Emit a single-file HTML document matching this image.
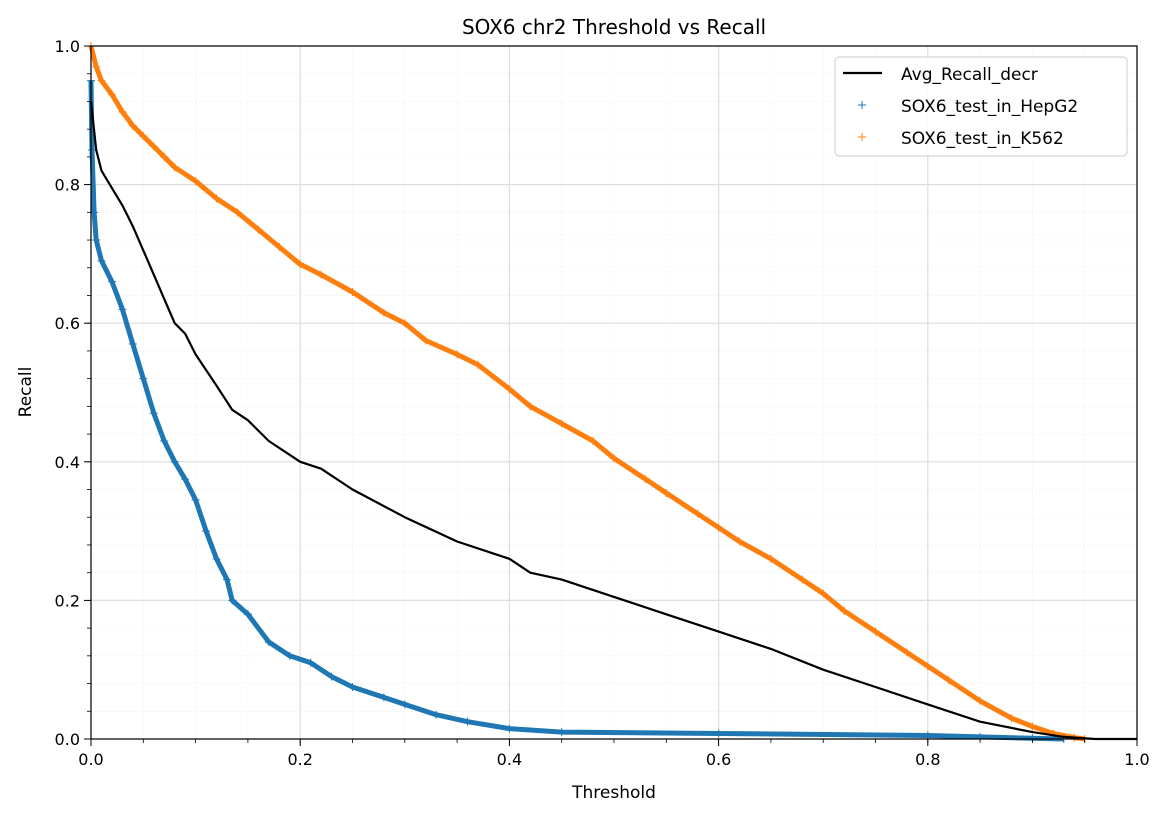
<!DOCTYPE html>
<html><head><meta charset="utf-8">
<style>
html,body{margin:0;padding:0;background:#fff;}
svg{display:block;font-family:"DejaVu Sans","Liberation Sans",sans-serif;}
</style></head>
<body>
<svg id="chart" width="1168" height="817" viewBox="0 0 1168 817">
<g id="grid"></g>
<g id="series"></g>
<rect x="91" y="46" width="1046" height="693" fill="none" stroke="#000" stroke-width="1.2"/>
<g id="axes"></g>
<text x="614" y="34" text-anchor="middle" font-size="20">SOX6 chr2 Threshold vs Recall</text>
<text x="614" y="798" text-anchor="middle" font-size="17">Threshold</text>
<text x="31" y="392" text-anchor="middle" font-size="17" transform="rotate(-90 31 392)">Recall</text>
<g>
<rect x="835" y="57" width="292" height="99" rx="4" fill="#fff" fill-opacity="0.85" stroke="#ccc"/>
<line x1="843" y1="73" x2="882" y2="73" stroke="#000" stroke-width="2.2"/>
<text x="901" y="80" font-size="17">Avg_Recall_decr</text>
<path d="M858 105h8M862 101v8" stroke="#1f77b4" stroke-width="1"/>
<text x="901" y="112" font-size="17">SOX6_test_in_HepG2</text>
<path d="M858 137h8M862 133v8" stroke="#ff7f0e" stroke-width="1"/>
<text x="901" y="144" font-size="17">SOX6_test_in_K562</text>
</g>
</svg>
<script>
const xTicks=[0,0.2,0.4,0.6,0.8,1.0];
const xTickLabels=["0.0","0.2","0.4","0.6","0.8","1.0"];
const yTicks=[0,0.2,0.4,0.6,0.8,1.0];
const yTickLabels=["0.0","0.2","0.4","0.6","0.8","1.0"];
const k562T=[0,0.005,0.01,0.02,0.03,0.04,0.05,0.06,0.07,0.08,0.1,0.12,0.14,0.16,0.18,0.2,0.22,0.25,0.28,0.3,0.32,0.35,0.37,0.4,0.42,0.45,0.48,0.5,0.53,0.55,0.58,0.6,0.62,0.65,0.68,0.7,0.72,0.75,0.78,0.8,0.82,0.85,0.88,0.9,0.92,0.94,0.95];
const k562R=[1.0,0.97,0.95,0.93,0.905,0.885,0.87,0.855,0.84,0.825,0.805,0.78,0.76,0.735,0.71,0.685,0.67,0.645,0.615,0.6,0.575,0.555,0.54,0.505,0.48,0.455,0.43,0.405,0.375,0.355,0.325,0.305,0.285,0.26,0.23,0.21,0.185,0.155,0.125,0.105,0.085,0.055,0.03,0.018,0.008,0.002,0];
const hepT=[0,0.001,0.003,0.005,0.01,0.02,0.03,0.04,0.05,0.06,0.07,0.08,0.09,0.1,0.11,0.12,0.13,0.135,0.15,0.17,0.19,0.21,0.23,0.25,0.28,0.3,0.33,0.36,0.4,0.45,0.6,0.8,0.85,0.9,0.93];
const hepR=[0.95,0.85,0.76,0.72,0.69,0.66,0.62,0.57,0.52,0.47,0.43,0.4,0.375,0.345,0.3,0.26,0.23,0.2,0.18,0.14,0.12,0.11,0.09,0.075,0.06,0.05,0.035,0.025,0.015,0.01,0.008,0.005,0.003,0.001,0];
const avgT=[0,0.005,0.01,0.02,0.03,0.04,0.05,0.06,0.07,0.08,0.09,0.1,0.12,0.135,0.15,0.17,0.2,0.22,0.25,0.3,0.35,0.4,0.42,0.45,0.5,0.55,0.6,0.65,0.7,0.75,0.8,0.85,0.9,0.93,0.96,1.0];
const avgR=[0.92,0.85,0.82,0.795,0.77,0.74,0.705,0.67,0.635,0.6,0.585,0.555,0.51,0.475,0.46,0.43,0.4,0.39,0.36,0.32,0.285,0.26,0.24,0.23,0.205,0.18,0.155,0.13,0.1,0.075,0.05,0.025,0.01,0.003,0,0];

const NS="http://www.w3.org/2000/svg";
const X0=91,X1=1137,Y0=739,Y1=46;
function xs(v){return X0+v*(X1-X0);}
function ys(v){return Y0-v*(Y0-Y1);}
function mk(tag,attrs,parent){const e=document.createElementNS(NS,tag);for(const k in attrs)e.setAttribute(k,attrs[k]);parent.appendChild(e);return e;}
const grid=document.getElementById('grid'),axes=document.getElementById('axes'),series=document.getElementById('series');
// minor grid
for(let i=1;i<20;i++){const v=i*0.05;const l=mk('line',{x1:xs(v),x2:xs(v),y1:Y1,y2:Y0,stroke:'#eee','stroke-width':0.6,'stroke-dasharray':'2,2'},grid);


const t=mk('line',{x1:xs(v),x2:xs(v),y1:Y0,y2:Y0+4,stroke:'#000','stroke-width':0.8},axes);

}
for(let i=1;i<25;i++){const v=i*0.04;const l=mk('line',{x1:X0,x2:X1,y1:ys(v),y2:ys(v),stroke:'#eee','stroke-width':0.6,'stroke-dasharray':'2,2'},grid);


const t=mk('line',{x1:X0-4,x2:X0,y1:ys(v),y2:ys(v),stroke:'#000','stroke-width':0.8},axes);

}
xTicks.forEach((v,i)=>{const l=mk('line',{x1:xs(v),x2:xs(v),y1:Y1,y2:Y0,stroke:'#ddd','stroke-width':1.2},grid);


const t=mk('line',{x1:xs(v),x2:xs(v),y1:Y0,y2:Y0+7,stroke:'#000','stroke-width':1},axes);


const tx=mk('text',{x:xs(v),y:Y0+26,'text-anchor':'middle','font-size':16},axes);tx.textContent=xTickLabels[i];

});
yTicks.forEach((v,i)=>{const l=mk('line',{x1:X0,x2:X1,y1:ys(v),y2:ys(v),stroke:'#ddd','stroke-width':1.2},grid);


const t=mk('line',{x1:X0-7,x2:X0,y1:ys(v),y2:ys(v),stroke:'#000','stroke-width':1},axes);


const tx=mk('text',{x:X0-11,y:ys(v)+6,'text-anchor':'end','font-size':16},axes);tx.textContent=yTickLabels[i];

});
function pts(T,R){return T.map((t,i)=>xs(t).toFixed(1)+','+ys(R[i]).toFixed(1)).join(' ');}
function scatter(T,R,color,name){
 const g=mk('g',{},series);
 
 
 const pl=mk('polyline',{points:pts(T,R),fill:'none',stroke:color,'stroke-width':5,'stroke-linejoin':'round'},g);
 
 
 T.forEach((t,i)=>{const x=xs(t),y=ys(R[i]);
  const p=mk('path',{d:`M${x-4} ${y}h8M${x} ${y-4}v8`,stroke:color,'stroke-width':1},g);
  
  });
}
scatter(k562T,k562R,'#ff7f0e','k562-series');
scatter(hepT,hepR,'#1f77b4','hepg2-series');
const avg=mk('polyline',{points:pts(avgT,avgR),fill:'none',stroke:'#000','stroke-width':2.2,'stroke-linejoin':'round'},series);


</script>
</body></html>
